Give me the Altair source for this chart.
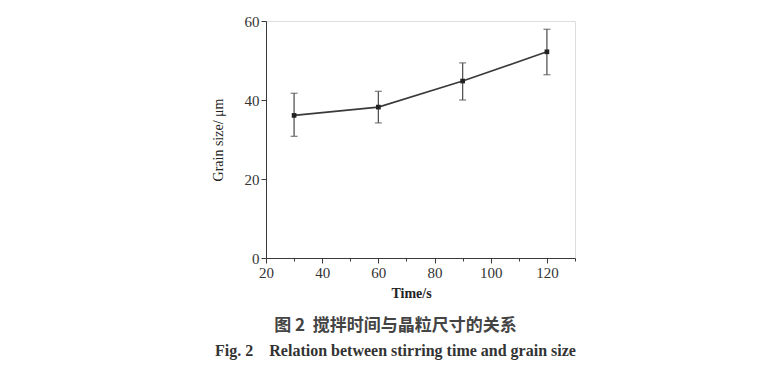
import altair as alt
import pandas as pd

time_s = [30, 60, 90, 120]
grain_size = [36.1, 38.2, 44.8, 52.2]
err_low = [30.8, 34.2, 40.0, 46.4]
err_high = [41.7, 42.2, 49.4, 57.9]

x_ticks = [20, 30, 40, 50, 60, 70, 80, 90, 100, 110, 120, 130]
y_ticks = [0, 10, 20, 30, 40, 50, 60]

df = pd.DataFrame({"t": time_s, "g": grain_size, "lo": err_low, "hi": err_high})

FONT = "Liberation Serif"
INK = "#3a3a3a"
NB = "\u00a0"

x_scale = alt.Scale(domain=[20, 130], nice=False, zero=False)
y_scale = alt.Scale(domain=[0, 60], nice=False)

x_enc = alt.X(
    "t:Q",
    scale=x_scale,
    axis=alt.Axis(
        title="Time/s",
        values=x_ticks,
        labelExpr="datum.value % 20 === 0 && datum.value <= 120 ? datum.label : ''",
        tickSize={"condition": {"test": "datum.value % 20 === 0", "value": 5}, "value": 3},
        grid=False,
        domainColor=INK,
        tickColor=INK,
        labelColor="#333",
        labelFont=FONT,
        labelFontSize=15,
        labelPadding=2,
        titleFont=FONT,
        titleFontSize=14,
        titleFontWeight="bold",
        titleColor="#222",
        titlePadding=6,
        titleX=145,
        labelFlush=False,
    ),
)
y_axis = alt.Axis(
    title="Grain size/ μm",
    values=y_ticks,
    labelExpr="datum.value % 20 === 0 ? datum.label : ''",
    tickSize={"condition": {"test": "datum.value % 20 === 0", "value": 5}, "value": 3},
    grid=False,
    domainColor=INK,
    tickColor=INK,
    labelColor="#333",
    labelFont=FONT,
    labelFontSize=15,
    labelPadding=2,
    titleFont=FONT,
    titleFontSize=14,
    titleFontWeight="normal",
    titleColor="#222",
    titlePadding=19,
    labelFlush=False,
)

base = alt.Chart(df).encode(x=x_enc)

line = base.mark_line(color=INK, strokeWidth=1.6).encode(
    y=alt.Y("g:Q", scale=y_scale, axis=y_axis)
)
pts = base.mark_square(color="#222", size=22, opacity=1).encode(y=alt.Y("g:Q", scale=y_scale))
rules = base.mark_rule(color="#555", strokeWidth=1.3).encode(
    y=alt.Y("lo:Q", scale=y_scale), y2="hi:Q"
)
cap_lo = base.mark_tick(color="#555", size=7, thickness=1.3, orient="horizontal").encode(
    y=alt.Y("lo:Q", scale=y_scale)
)
cap_hi = base.mark_tick(color="#555", size=7, thickness=1.3, orient="horizontal").encode(
    y=alt.Y("hi:Q", scale=y_scale)
)

chart = (
    alt.layer(rules, cap_lo, cap_hi, line, pts)
    .properties(
        width=309,
        height=237,
        autosize=alt.AutoSizeParams(type="none"),
        padding={"left": 258, "top": 13, "right": 8, "bottom": 115},
        title=alt.TitleParams(
            text="图 2" + NB * 2 + "搅拌时间与晶粒尺寸的关系",
            subtitle="Fig. 2" + NB * 4 + "Relation between stirring time and grain size",
            orient="bottom",
            anchor="middle",
            dx=-25,
            offset=18,
            font="Noto Sans CJK SC",
            fontSize=17,
            fontWeight="bold",
            color="#444",
            subtitleFont=FONT,
            subtitleFontSize=16,
            subtitleFontWeight="bold",
            subtitleColor="#333",
            subtitlePadding=8,
        ),
    )
    .configure_view(stroke="#555", strokeWidth=1.3)
    .configure(background="white")
)

chart.save("out.html", embed_options={"renderer": "svg", "actions": False})
